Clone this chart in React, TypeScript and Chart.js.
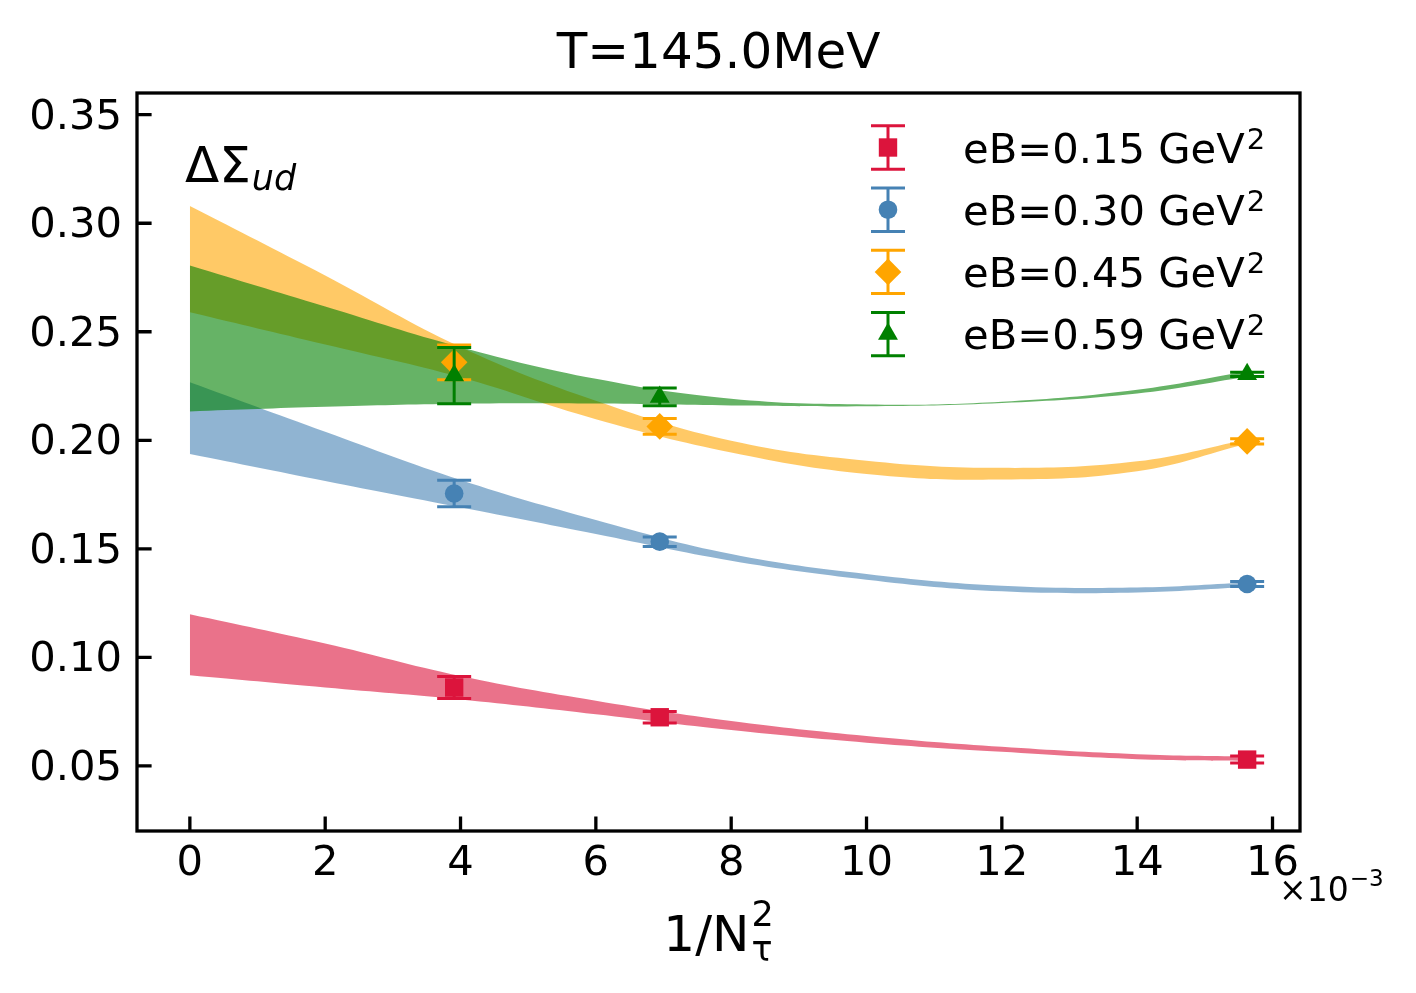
import React, { useEffect, useRef } from 'react';
import { Chart, registerables } from 'chart.js';
import { drawPoint } from 'chart.js/helpers';

Chart.register(...registerables);

// fit bands, sampled on this grid of 1/N_tau^2 (x 1e-3)
const BAND_X = [0, 2, 4, 6, 8, 10, 12, 14, 15.625];

const RED_HI = [0.1199, 0.1064, 0.0914, 0.0800, 0.0707, 0.0638, 0.0588, 0.0554, 0.0543];
const RED_LO = [0.0917, 0.0861, 0.0806, 0.0738, 0.0665, 0.0607, 0.0565, 0.0531, 0.0523];
const BLUE_HI = [0.2267, 0.2039, 0.1817, 0.1633, 0.1476, 0.1384, 0.1330, 0.1322, 0.1345];
const BLUE_LO = [0.1937, 0.1813, 0.1691, 0.1568, 0.1445, 0.1358, 0.1304, 0.1299, 0.1324];
const ORANGE_HI = [0.3079, 0.2759, 0.2430, 0.2182, 0.1998, 0.1906, 0.1873, 0.1903, 0.2004];
const ORANGE_LO = [0.2590, 0.2441, 0.2290, 0.2097, 0.1944, 0.1845, 0.1819, 0.1857, 0.1984];
const GREEN_HI = [0.2805, 0.2616, 0.2429, 0.2283, 0.2191, 0.2165, 0.2178, 0.2233, 0.2318];
const GREEN_LO = [0.2133, 0.2154, 0.2168, 0.2169, 0.2160, 0.2157, 0.2172, 0.2216, 0.2293];

// lattice points N_tau = 16, 12, 8
const DATA_X = [3.906, 6.944, 15.625];
const RED_Y = [0.0861, 0.0724, 0.0529];
const RED_ERR = [0.0051, 0.0027, 0.0016];
const BLUE_Y = [0.1755, 0.1533, 0.1338];
const BLUE_ERR = [0.0061, 0.0022, 0.0012];
const ORANGE_Y = [0.2359, 0.2064, 0.1995];
const ORANGE_ERR = [0.0080, 0.0036, 0.0012];
const GREEN_Y = [0.2298, 0.2200, 0.2304];
const GREEN_ERR = [0.0130, 0.0041, 0.0010];

const LABELS = ['eB=0.15 GeV', 'eB=0.30 GeV', 'eB=0.45 GeV', 'eB=0.59 GeV'];
const X_TICKS = [0, 2, 4, 6, 8, 10, 12, 14, 16];
const Y_TICKS = [0.05, 0.1, 0.15, 0.2, 0.25, 0.3, 0.35];

const FONT = 'DejaVu Sans';

const series = [
    { label: LABELS[0], color: '#DC143C', fill: 'rgba(220,20,60,0.6)', style: 'rect', r: 13, y: RED_Y, err: RED_ERR, hi: RED_HI, lo: RED_LO },
    { label: LABELS[1], color: '#4682B4', fill: 'rgba(70,130,180,0.6)', style: 'circle', r: 9.3, y: BLUE_Y, err: BLUE_ERR, hi: BLUE_HI, lo: BLUE_LO },
    { label: LABELS[2], color: '#FFA500', fill: 'rgba(255,165,0,0.6)', style: 'rectRot', r: 13.3, y: ORANGE_Y, err: ORANGE_ERR, hi: ORANGE_HI, lo: ORANGE_LO },
    { label: LABELS[3], color: '#008000', fill: 'rgba(0,128,0,0.6)', style: 'triangle', r: 11.5, y: GREEN_Y, err: GREEN_ERR, hi: GREEN_HI, lo: GREEN_LO },
];

const errorBars = {
    id: 'errorBars',
    beforeDatasetDraw(chart, args) {
        const ds = chart.data.datasets[args.index];
        if (!ds.errors) return;
        const ctx = chart.ctx;
        const xs = chart.scales.x;
        const ys = chart.scales.y;
        ctx.save();
        ctx.strokeStyle = ds.pointBackgroundColor;
        ctx.lineWidth = 3;
        ds.data.forEach((p, i) => {
            const px = xs.getPixelForValue(p.x);
            const top = ys.getPixelForValue(p.y + ds.errors[i]);
            const bot = ys.getPixelForValue(p.y - ds.errors[i]);
            ctx.beginPath();
            ctx.moveTo(px, top);
            ctx.lineTo(px, bot);
            ctx.moveTo(px - 17, top);
            ctx.lineTo(px + 17, top);
            ctx.moveTo(px - 17, bot);
            ctx.lineTo(px + 17, bot);
            ctx.stroke();
        });
        ctx.restore();
    }
};

const frame = {
    id: 'frame',
    afterDatasetsDraw(chart) {
        const { ctx, chartArea: a, scales } = chart;
        ctx.save();
        ctx.strokeStyle = '#000';
        ctx.lineWidth = 3.3;
        ctx.strokeRect(a.left, a.top, a.right - a.left, a.bottom - a.top);
        ctx.beginPath();
        X_TICKS.forEach(v => {
            const px = scales.x.getPixelForValue(v);
            ctx.moveTo(px, a.bottom);
            ctx.lineTo(px, a.bottom - 14.6);
        });
        Y_TICKS.forEach(v => {
            const py = scales.y.getPixelForValue(v);
            ctx.moveTo(a.left, py);
            ctx.lineTo(a.left + 14.6, py);
        });
        ctx.stroke();
        ctx.restore();
    }
};

const texts = {
    id: 'texts',
    afterDraw(chart) {
        const { ctx, chartArea: a } = chart;
        ctx.save();
        ctx.fillStyle = '#000';
        ctx.textBaseline = 'alphabetic';
        const cx = (a.left + a.right) / 2;

        ctx.textAlign = 'center';
        ctx.font = `50px "${FONT}"`;
        ctx.fillText('T=145.0MeV', cx, 68);

        ctx.textAlign = 'left';
        // x label 1/N_tau^2
        ctx.font = `50px "${FONT}"`;
        const w1 = ctx.measureText('1/N').width;
        ctx.font = `35px "${FONT}"`;
        const w2 = ctx.measureText('2').width;
        const x0 = cx - (w1 + 2 + w2) / 2;
        ctx.font = `50px "${FONT}"`;
        ctx.fillText('1/N', x0, 951);
        ctx.font = `35px "${FONT}"`;
        ctx.fillText('2', x0 + w1 + 2, 926);
        ctx.fillText('τ', x0 + w1 + 2, 961);

        // offset text
        ctx.font = `33px "${FONT}"`;
        ctx.fillText('×10', 1279, 901);
        const wo = ctx.measureText('×10').width;
        ctx.font = `23px "${FONT}"`;
        ctx.fillText('−3', 1279 + wo + 1, 886);

        // observable label
        ctx.font = `50px "${FONT}"`;
        ctx.fillText('ΔΣ', 185, 182);
        const wd = ctx.measureText('ΔΣ').width;
        ctx.font = `italic 35px "${FONT}"`;
        ctx.fillText('ud', 185 + wd + 1, 190);

        // legend
        series.forEach((s, i) => {
            const cy = 147.5 + i * 62.2;
            const mx = 888;
            ctx.strokeStyle = s.color;
            ctx.lineWidth = 3;
            ctx.beginPath();
            ctx.moveTo(mx, cy - 21.7);
            ctx.lineTo(mx, cy + 21.7);
            ctx.moveTo(mx - 17, cy - 21.7);
            ctx.lineTo(mx + 17, cy - 21.7);
            ctx.moveTo(mx - 17, cy + 21.7);
            ctx.lineTo(mx + 17, cy + 21.7);
            ctx.stroke();
            ctx.fillStyle = s.color;
            drawPoint(ctx, { pointStyle: s.style, radius: s.r, rotation: 0, borderWidth: 0 }, mx, cy);
            ctx.fillStyle = '#000';
            ctx.font = `41.7px "${FONT}"`;
            ctx.fillText(s.label, 963, cy + 15);
            const wl = ctx.measureText(s.label).width;
            ctx.font = `29px "${FONT}"`;
            ctx.fillText('2', 963 + wl + 2, cy + 1);
        });
        ctx.restore();
    }
};

export default function App() {
    const canvasRef = useRef(null);

    useEffect(() => {
        const bandSets = [];
        const pointSets = [];
        series.forEach((s, k) => {
            bandSets.push({
                type: 'line',
                data: BAND_X.map((x, i) => ({ x, y: s.hi[i] })),
                borderColor: 'rgba(0,0,0,0)',
                borderWidth: 0,
                pointRadius: 0,
                backgroundColor: s.fill,
                fill: '+1',
                tension: 0.4,
                order: 13 - k
            });
            bandSets.push({
                type: 'line',
                data: BAND_X.map((x, i) => ({ x, y: s.lo[i] })),
                borderColor: 'rgba(0,0,0,0)',
                borderWidth: 0,
                pointRadius: 0,
                fill: false,
                tension: 0.4,
                order: 13 - k
            });
            pointSets.push({
                type: 'line',
                showLine: false,
                data: DATA_X.map((x, i) => ({ x, y: s.y[i] })),
                errors: s.err,
                pointStyle: s.style,
                pointRadius: s.r,
                pointBackgroundColor: s.color,
                pointBorderWidth: 0,
                order: 3 - k
            });
        });

        const chart = new Chart(canvasRef.current, {
            type: 'line',
            data: { datasets: [...bandSets, ...pointSets] },
            options: {
                responsive: true,
                maintainAspectRatio: false,
                animation: false,
                events: [],
                layout: { padding: { left: 0, top: 93, right: 116, bottom: 0 } },
                plugins: {
                    legend: { display: false },
                    tooltip: { enabled: false }
                },
                scales: {
                    x: {
                        type: 'linear',
                        min: -0.78125,
                        max: 16.40625,
                        grid: { display: false, drawTicks: false },
                        border: { display: false },
                        ticks: {
                            color: '#000',
                            font: { family: FONT, size: 41.7 },
                            padding: 8,
                            maxRotation: 0,
                            autoSkip: false,
                            callback: v => String(v)
                        },
                        afterBuildTicks: s => { s.ticks = X_TICKS.map(v => ({ value: v })); },
                        afterFit: s => { s.height = 162; }
                    },
                    y: {
                        type: 'linear',
                        min: 0.02,
                        max: 0.36,
                        grid: { display: false, drawTicks: false },
                        border: { display: false },
                        ticks: {
                            color: '#000',
                            font: { family: FONT, size: 41.7 },
                            padding: 15,
                            labelOffset: 3,
                            autoSkip: false,
                            callback: v => Number(v).toFixed(2)
                        },
                        afterBuildTicks: s => { s.ticks = Y_TICKS.map(v => ({ value: v })); },
                        afterFit: s => { s.width = 137; }
                    }
                }
            },
            plugins: [errorBars, frame, texts]
        });

        return () => {
            chart.destroy();
        };
    }, []);

    return (
        <div style={{ position: 'fixed', left: 0, top: 0, width: 1416, height: 993, background: '#fff' }}>
            <canvas ref={canvasRef} />
        </div>
    );
}
